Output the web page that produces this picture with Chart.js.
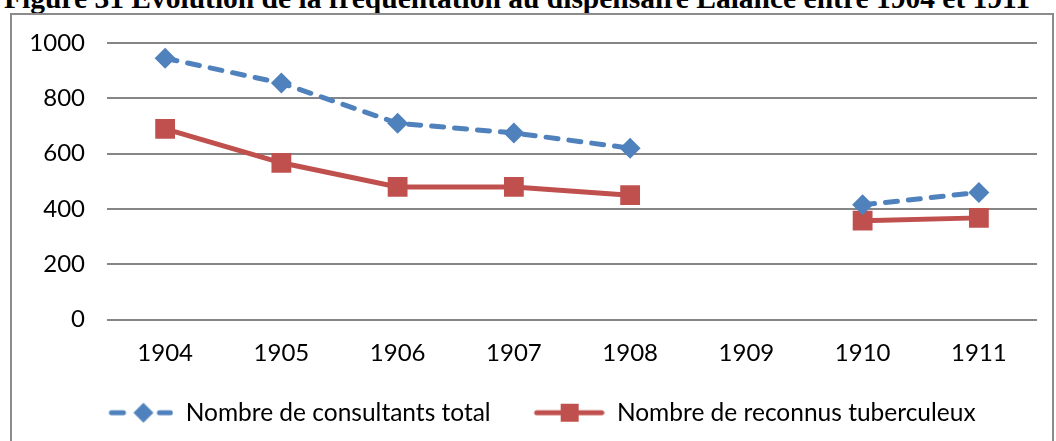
<!DOCTYPE html>
<html>
<head>
<meta charset="utf-8">
<script src="https://cdn.jsdelivr.net/npm/chart.js@4"></script>
<style>
  html, body { margin: 0; padding: 0; background: #fff; }
  body { width: 1056px; height: 441px; position: relative; overflow: hidden; }
  #title {
    position: absolute; left: 4px; top: -16px; white-space: nowrap;
    font: bold 29.5px/29.5px "Liberation Serif", "Times New Roman", serif; color: #000;
  }
  #box {
    position: absolute; left: 10px; top: 13px; width: 1040px; height: 440px;
    border: 2px solid #8c8c8c;
  }
  #box canvas { position: absolute; left: 0; top: 0; }
</style>
</head>
<body>
<div id="title">Figure 31 Évolution de la fréquentation au dispensaire Lalance entre 1904 et 1911</div>
<div id="box"><canvas id="chart" width="1040" height="426"></canvas></div>
<script>
const years = ['1904', '1905', '1906', '1907', '1908', '1909', '1910', '1911'];
const consultants = [945, 855, 710, 675, 620, null, 415, 460];
const tuberculeux = [690, 567, 480, 480, 450, null, 358, 368];
const yTicks = [0, 200, 400, 600, 800, 1000];

const blue = '#4f81bd';
const red = '#c0504d';

// legend icons: line + marker, like the Excel legend (drawn on the right of a 100px box)
function blueIcon() {
    const c = document.createElement('canvas');
    c.width = 100; c.height = 22;
    const ctx = c.getContext('2d');
    ctx.strokeStyle = blue; ctx.lineWidth = 5; ctx.lineCap = 'round';
    ctx.beginPath(); ctx.moveTo(38, 11); ctx.lineTo(50, 11); ctx.stroke();
    ctx.beginPath(); ctx.moveTo(86, 11); ctx.lineTo(97, 11); ctx.stroke();
    ctx.fillStyle = blue;
    ctx.beginPath();
    ctx.moveTo(70, 1); ctx.lineTo(80, 11); ctx.lineTo(70, 21); ctx.lineTo(60, 11);
    ctx.closePath(); ctx.fill();
    return c;
}
function redIcon() {
    const c = document.createElement('canvas');
    c.width = 100; c.height = 22;
    const ctx = c.getContext('2d');
    ctx.strokeStyle = red; ctx.lineWidth = 5; ctx.lineCap = 'round';
    ctx.beginPath(); ctx.moveTo(32, 11); ctx.lineTo(97, 11); ctx.stroke();
    ctx.fillStyle = red;
    ctx.fillRect(56, 2, 18, 18);
    return c;
}
const icons = [blueIcon(), redIcon()];

new Chart(document.getElementById('chart'), {
    type: 'line',
    data: {
        labels: years,
        datasets: [{
            label: 'Nombre de consultants total',
            data: consultants,
            borderColor: blue,
            backgroundColor: blue,
            borderWidth: 5,
            borderDash: [12, 11],
            borderCapStyle: 'round',
            pointStyle: 'rectRot',
            pointRadius: 10.5,
            pointHoverRadius: 10.5,
            pointBorderWidth: 0,
            spanGaps: false,
            tension: 0
        }, {
            label: 'Nombre de reconnus tuberculeux',
            data: tuberculeux,
            borderColor: red,
            backgroundColor: red,
            borderWidth: 5,
            pointStyle: 'rect',
            pointRadius: 14,
            pointHoverRadius: 14,
            pointBorderWidth: 0,
            spanGaps: false,
            tension: 0
        }]
    },
    options: {
        responsive: false,
        animation: false,
        layout: { autoPadding: false, padding: { top: 28, right: 15, bottom: 6, left: 0 } },
        plugins: {
            legend: {
                position: 'bottom',
                labels: {
                    usePointStyle: true,
                    pointStyleWidth: 100,
                    color: '#000',
                    font: { family: 'Lato', size: 24.5 },
                    padding: 14,
                    generateLabels: function(chart) {
                        return chart.data.datasets.map((ds, i) => ({
                            text: ds.label,
                            pointStyle: icons[i],
                            fillStyle: ds.backgroundColor,
                            strokeStyle: ds.borderColor,
                            lineWidth: 0,
                            datasetIndex: i,
                            hidden: false
                        }));
                    }
                }
            },
            tooltip: { enabled: false }
        },
        scales: {
            x: {
                offset: true,
                grid: { display: false, drawTicks: false },
                border: { display: false },
                ticks: { color: '#000', font: { family: 'Lato', size: 24 }, padding: 19 }
            },
            y: {
                min: 0,
                max: 1000,
                afterBuildTicks: function(axis) {
                    axis.ticks = yTicks.map(v => ({ value: v }));
                },
                afterFit: function(axis) { axis.width = 95; },
                // invisible tick marks give the gap between labels and plot
                grid: { color: '#868686', lineWidth: 2, drawTicks: true, tickLength: 22, tickColor: 'rgba(0,0,0,0)' },
                border: { display: false },
                ticks: {
                    color: '#000',
                    font: { family: 'Lato', size: 24 },
                    padding: 0,
                    callback: function(value) { return String(value); }
                }
            }
        }
    }
});
</script>
</body>
</html>
